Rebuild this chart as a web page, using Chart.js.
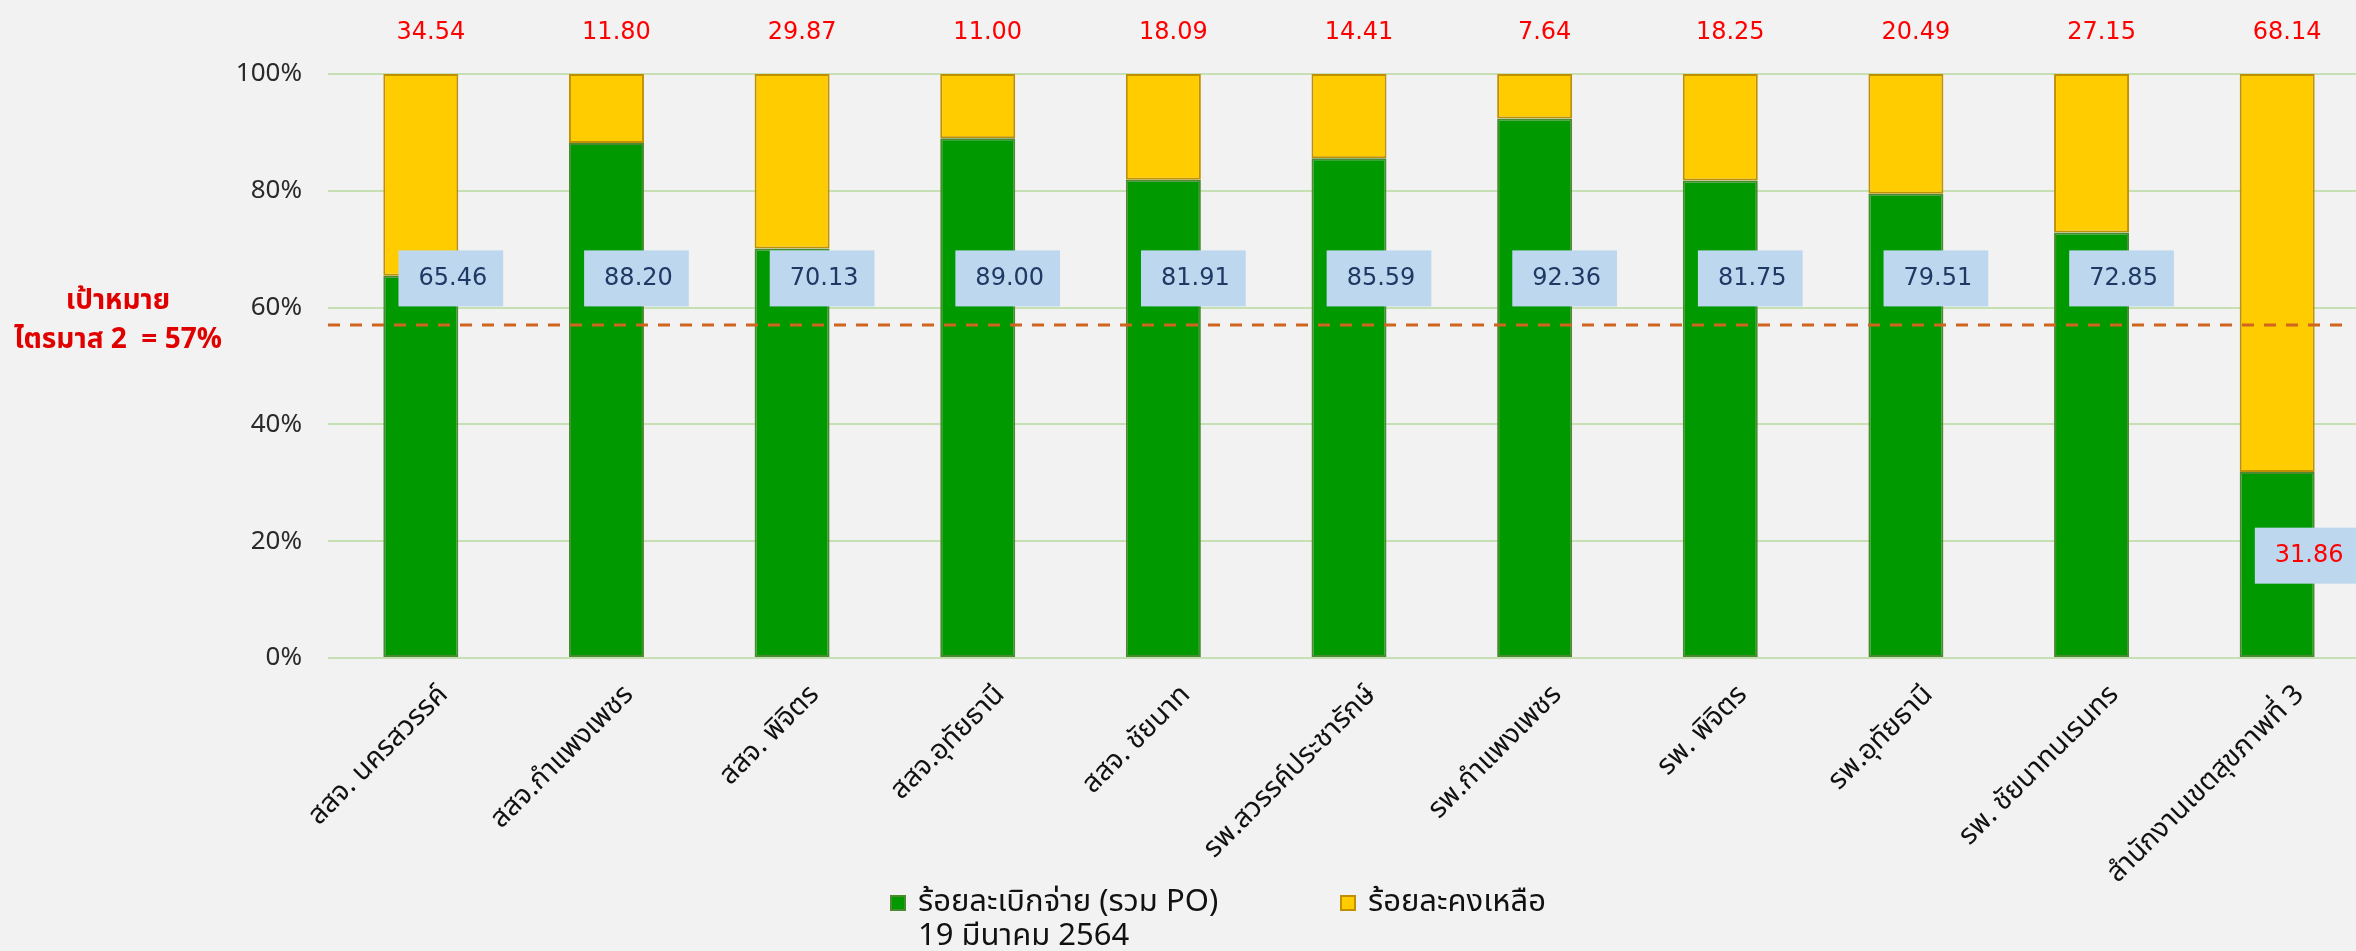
<!DOCTYPE html>
<html>
<head>
<meta charset="utf-8">
<script src="https://cdn.jsdelivr.net/npm/chart.js@4"></script>
<style>
  html, body { margin: 0; padding: 0; background: #F2F2F2; overflow: hidden; }
  #wrap { position: relative; width: 2370px; height: 951px; }
  .leg { position: absolute; font-family: "Noto Sans Thai", "Noto Sans", sans-serif; font-size: 31px; color: #111; line-height: 34px; white-space: nowrap; }
  .sw { position: absolute; width: 16px; height: 16px; box-sizing: border-box; border: 2px solid; }
</style>
</head>
<body>
<div id="wrap">
  <canvas id="ctx"></canvas>
  <div id="legend"></div>
</div>
<script>
'use strict';
const categories = ['สสจ. นครสวรรค์', 'สสจ.กำแพงเพชร', 'สสจ. พิจิตร', 'สสจ.อุทัยธานี', 'สสจ. ชัยนาท',
  'รพ.สวรรค์ประชารักษ์', 'รพ.กำแพงเพชร', 'รพ. พิจิตร', 'รพ.อุทัยธานี', 'รพ. ชัยนาทนเรนทร', 'สำนักงานเขตสุขภาพที่ 3'];
const spentPct = [65.46, 88.20, 70.13, 89.00, 81.91, 85.59, 92.36, 81.75, 79.51, 72.85, 31.86];
const remainPct = [34.54, 11.80, 29.87, 11.00, 18.09, 14.41, 7.64, 18.25, 20.49, 27.15, 68.14];
const yTicks = [0, 20, 40, 60, 80, 100];
const targetPct = 57;
const targetText = ['เป้าหมาย', 'ไตรมาส 2  = 57%'];
const seriesNames = [['ร้อยละเบิกจ่าย (รวม PO)', '19 มีนาคม 2564'], ['ร้อยละคงเหลือ']];

const GREEN = '#009900', YELLOW = '#FFCC00';

// labels above bars, blue boxes and the target line
const extras = {
  id: 'extras',
  afterDatasetsDraw(chart) {
    const ctx = chart.ctx;
    const y = chart.scales.y;
    const area = chart.chartArea;
    ctx.save();

    // target line
    const ty = y.getPixelForValue(targetPct);
    ctx.strokeStyle = '#D0651F';
    ctx.lineWidth = 3;
    ctx.setLineDash([12, 10]);
    ctx.beginPath();
    ctx.moveTo(area.left, ty);
    ctx.lineTo(area.right - 20, ty);
    ctx.stroke();
    ctx.setLineDash([]);

    ctx.fillStyle = '#E00000';
    ctx.font = 'bold 28px "Noto Sans Thai", "Noto Sans", sans-serif';
    ctx.textAlign = 'center';
    ctx.textBaseline = 'middle';
    ctx.fillText(targetText[0], 118, ty - 22);
    ctx.fillText(targetText[1], 118, ty + 17);

    ctx.font = '24px "DejaVu Sans", sans-serif';
    chart.getDatasetMeta(1).data.forEach((bar, i) => {
      ctx.fillStyle = '#FF0000';
      ctx.fillText(remainPct[i].toFixed(2), bar.x + 10, area.top - 41);
    });
    chart.getDatasetMeta(0).data.forEach((bar, i) => {
      const v = spentPct[i];
      const cy = y.getPixelForValue(v >= 60 ? 65 : v * 0.55);
      const txt = v.toFixed(2);
      const w = ctx.measureText(txt).width + 36, h = 56;
      const cx = bar.x + 30;
      ctx.fillStyle = '#BDD7EE';
      ctx.fillRect(cx - w / 2, cy - h / 2, w, h);
      ctx.fillStyle = v < targetPct ? '#FF0000' : '#1F3864';
      ctx.fillText(txt, cx + 2, cy);
    });
    ctx.restore();
  }
};

const ctx = document.getElementById('ctx');
const myChart = new Chart(ctx, {
  type: 'bar',
  data: {
    labels: categories,
    datasets: [
      {
        label: seriesNames[0].join(' '),
        data: spentPct,
        backgroundColor: GREEN,
        borderColor: '#4A8A30',
        borderWidth: 2,
        borderSkipped: false
      },
      {
        label: seriesNames[1].join(' '),
        data: remainPct,
        backgroundColor: YELLOW,
        borderColor: '#C09000',
        borderWidth: 2,
        borderSkipped: false
      }
    ]
  },
  options: {
    responsive: true,
    maintainAspectRatio: false,
    animation: false,
    layout: { padding: { top: 74, right: 0, left: 0, bottom: 0 } },
    datasets: { bar: { categoryPercentage: 1, barPercentage: 0.404 } },
    plugins: {
      legend: { display: false },
      tooltip: { enabled: false }
    },
    scales: {
      x: {
        stacked: true,
        grid: { display: false },
        border: { display: false },
        ticks: {
          color: '#111',
          minRotation: 45,
          maxRotation: 45,
          padding: 14,
          labelOffset: 24,
          font: { family: '"Noto Sans Thai", "Noto Sans", sans-serif', size: 28 }
        },
        afterFit(scale) { scale.height = 293; }
      },
      y: {
        stacked: true,
        min: 0,
        max: 100,
        grid: { color: '#C6E0B4', lineWidth: 2, drawTicks: false },
        border: { display: false },
        afterBuildTicks(scale) { scale.ticks = yTicks.map(v => ({ value: v })); },
        ticks: {
          color: '#2A2A2A',
          padding: 26,
          font: { family: '"Noto Sans", sans-serif', size: 26 },
          callback: v => v + '%'
        },
        afterFit(scale) { scale.width = 328; }
      }
    }
  },
  plugins: [extras]
});

// legend below the chart
const legend = document.getElementById('legend');
const legendPos = [{ x: 890, y: 885 }, { x: 1340, y: 885 }];
const legendColors = [[GREEN, '#4A8A30'], [YELLOW, '#C09000']];
seriesNames.forEach((lines, i) => {
  const sw = document.createElement('div');
  sw.className = 'sw';
  sw.style.left = legendPos[i].x + 'px';
  sw.style.top = (legendPos[i].y + 10) + 'px';
  sw.style.background = legendColors[i][0];
  sw.style.borderColor = legendColors[i][1];
  legend.appendChild(sw);
  const t = document.createElement('div');
  t.className = 'leg';
  t.style.left = (legendPos[i].x + 28) + 'px';
  t.style.top = legendPos[i].y + 'px';
  t.innerHTML = lines.join('<br>');
  legend.appendChild(t);
});
</script>
</body>
</html>
